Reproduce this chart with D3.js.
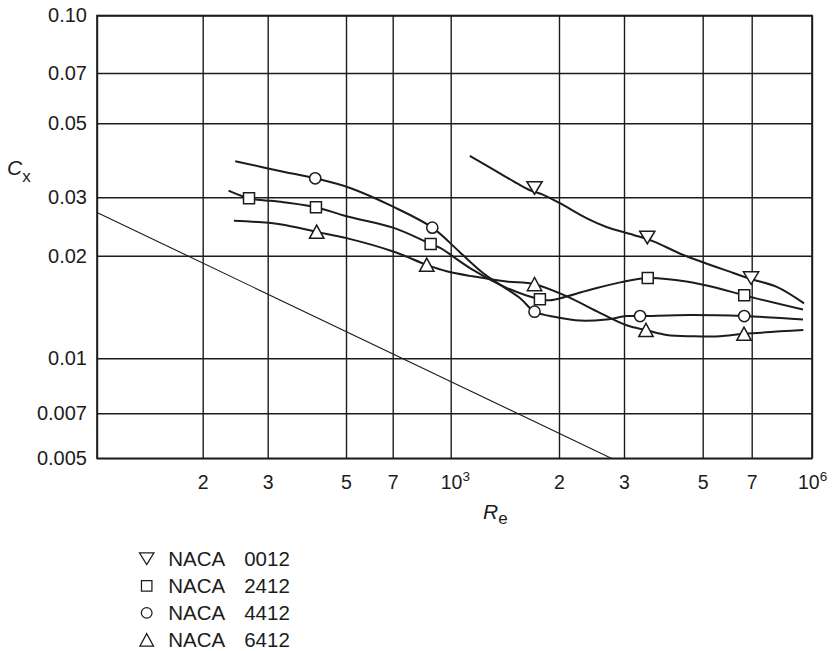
<!DOCTYPE html>
<html>
<head>
<meta charset="utf-8">
<script src="https://cdn.jsdelivr.net/npm/d3@7"></script>
<style>
  body { margin: 0; background: #fff; }
  text { font-family: "Liberation Sans", Arial, Helvetica, sans-serif; fill: #1c1c1c; }
</style>
</head>
<body>
<div id="vis"></div>
<script>
// tick values and labels (as printed on the figure)
var xTicks = [1e4, 2e4, 3e4, 5e4, 7e4, 1e5, 2e5, 3e5, 5e5, 7e5, 1e6];
var xTickLabels = ["", "2", "3", "5", "7", "10^3", "2", "3", "5", "7", "10^6"];
var yTicks = [0.005, 0.007, 0.01, 0.02, 0.03, 0.05, 0.07, 0.1];
var yTickLabels = ["0.005", "0.007", "0.01", "0.02", "0.03", "0.05", "0.07", "0.10"];

var seriesNames = ["NACA 0012", "NACA 2412", "NACA 4412", "NACA 6412"];
var seriesShapes = ["triDown", "square", "circle", "triUp"];

// faired curves [Re, Cx]
var curve0012 = [[1.13e5,0.0399],[1.37e5,0.0354],[1.53e5,0.033],[1.66e5,0.0315],[1.81e5,0.0305],[2.01e5,0.0288],
  [2.38e5,0.0259],[2.69e5,0.0244],[3.19e5,0.0231],[3.63e5,0.0221],[4.41e5,0.0201],[6.17e5,0.0178],
  [7.07e5,0.017],[8.12e5,0.0162],[9.54e5,0.0145]];
var curve2412 = [[2.35e4,0.0314],[2.67e4,0.0298],[3.32e4,0.029],[4.11e4,0.028],[5.02e4,0.0263],[7.02e4,0.0243],
  [8.84e4,0.0217],[9.37e4,0.0211],[1.15e5,0.0182],[1.43e5,0.0161],[1.77e5,0.0149],[1.89e5,0.0148],
  [2.43e5,0.0159],[2.93e5,0.0167],[3.5e5,0.0172],[4.5e5,0.0168],[5.63e5,0.016],[6.65e5,0.0153],[9.48e5,0.0139]];
var curve4412 = [[2.45e4,0.0385],[3.32e4,0.0358],[4.09e4,0.0342],[5.15e4,0.032],[7.02e4,0.0281],[8.93e4,0.0243],
  [1.06e5,0.0205],[1.23e5,0.0178],[1.56e5,0.015],[1.71e5,0.0137],[1.97e5,0.0132],[2.28e5,0.0129],
  [2.69e5,0.013],[3.05e5,0.0133],[3.33e5,0.0133],[4.6e5,0.0134],[6.65e5,0.0133],[9.48e5,0.013]];
var curve6412 = [[2.43e4,0.0255],[3.25e4,0.0249],[4.13e4,0.0236],[5.02e4,0.0226],[7.02e4,0.0206],[8.63e4,0.0188],
  [9.76e4,0.018],[1.15e5,0.0174],[1.43e5,0.0168],[1.71e5,0.0165],[2.1e5,0.0152],[2.58e5,0.0136],
  [3.05e5,0.0125],[3.46e5,0.0121],[3.96e5,0.0117],[4.7e5,0.0116],[5.63e5,0.0116],[6.64e5,0.0118],[9.5e5,0.0121]];

// measured points [Re, Cx]
var marks0012 = [[1.71e5,0.032],[3.49e5,0.0227],[6.97e5,0.0172]];
var marks2412 = [[2.67e4,0.0298],[4.11e4,0.028],[8.84e4,0.0217],[1.77e5,0.0149],[3.5e5,0.0172],[6.65e5,0.0153]];
var marks4412 = [[4.09e4,0.0342],[8.93e4,0.0243],[1.71e5,0.0137],[3.33e5,0.0133],[6.65e5,0.0133]];
var marks6412 = [[4.13e4,0.0236],[8.63e4,0.0188],[1.71e5,0.0165],[3.46e5,0.0121],[6.64e5,0.0118]];

// laminar flat plate line
var laminarLine = [[1e4,0.027],[2.77e5,0.005]];

var curves = [curve0012, curve2412, curve4412, curve6412];
var marks = [marks0012, marks2412, marks4412, marks6412];

var w = 832, h = 651;
var plotLeft = 97, plotRight = 812, plotTop = 15.5, plotBottom = 458.3;

var svg = d3.select("#vis").append("svg")
  .attr("width", w)
  .attr("height", h);

// printed grid is slightly uneven, so log scales are pinned at every grid line
var x = d3.scaleLog()
  .domain(xTicks)
  .range([plotLeft, 202.7, 267.7, 346, 392.7, 450.7, 559, 624, 702.7, 751.7, plotRight]);
var y = d3.scaleLog()
  .domain(yTicks)
  .range([plotBottom, 413.3, 358.3, 255.7, 197.3, 123.3, 73, plotTop]);

var ink = "#1c1c1c";

// x grid + labels
var xAxis = svg.append("g")
  .attr("transform", `translate(0,${plotBottom})`)
  .call(d3.axisBottom(x)
    .tickValues(xTicks)
    .tickSize(-(plotBottom - plotTop))
    .tickPadding(16.5)
    .tickFormat((d, i) => xTickLabels[i]));
xAxis.select(".domain").remove();
xAxis.selectAll("line").attr("stroke", ink).attr("stroke-width", 1.4);
xAxis.selectAll("text")
  .attr("font-size", 19.5)
  .attr("font-family", null)
  .attr("fill", ink)
  .each(function(d, i) {
    var lab = xTickLabels[i];
    if (lab.indexOf("^") < 0) return;
    var parts = lab.split("^");
    var t = d3.select(this).text(null).attr("text-anchor", "start").attr("x", i == xTicks.length - 1 ? -14.5 : -10.5);
    t.append("tspan").text(parts[0]);
    t.append("tspan").attr("font-size", 13.5).attr("dy", "-0.6em").text(parts[1]);
  });

// y grid + labels
var yAxis = svg.append("g")
  .attr("transform", `translate(${plotLeft},0)`)
  .call(d3.axisLeft(y)
    .tickValues(yTicks)
    .tickSize(-(plotRight - plotLeft))
    .tickPadding(10)
    .tickFormat((d, i) => yTickLabels[i]));
yAxis.select(".domain").remove();
yAxis.selectAll("line").attr("stroke", ink).attr("stroke-width", 1.4);
yAxis.selectAll("text")
  .attr("font-size", 20)
  .attr("font-family", null)
  .attr("fill", ink);

// frame
svg.append("rect")
  .attr("x", plotLeft).attr("y", plotTop)
  .attr("width", plotRight - plotLeft).attr("height", plotBottom - plotTop)
  .attr("fill", "none").attr("stroke", ink).attr("stroke-width", 1.6);

// laminar reference line
svg.append("path")
  .attr("d", d3.line().x(d => x(d[0])).y(d => y(d[1]))(laminarLine))
  .attr("fill", "none").attr("stroke", ink).attr("stroke-width", 1.1);

// curves
var line = d3.line()
  .x(d => x(d[0]))
  .y(d => y(d[1]))
  .curve(d3.curveCatmullRom.alpha(0.5));

svg.append("g").selectAll("path")
  .data(curves)
  .enter()
  .append("path")
  .attr("d", line)
  .attr("fill", "none")
  .attr("stroke", ink)
  .attr("stroke-width", 2);

// marker shapes
var shapePath = {
  triDown: "M0,6.3L7.6,-6.2L-7.6,-6.2Z",
  triUp: "M0,-6.7L7.2,6.5L-7.2,6.5Z",
  square: "M-5.5,-5.5H5.5V5.5H-5.5Z",
  circle: "M5.6,0A5.6,5.6 0 1,1 -5.6,0A5.6,5.6 0 1,1 5.6,0Z"
};

marks.forEach(function(pts, i) {
  svg.append("g").selectAll("path")
    .data(pts)
    .enter()
    .append("path")
    .attr("transform", d => `translate(${x(d[0])},${y(d[1])})`)
    .attr("d", shapePath[seriesShapes[i]])
    .attr("fill", "#fff")
    .attr("stroke", ink)
    .attr("stroke-width", 1.5);
});

// axis titles
var cx = svg.append("text").attr("x", 7).attr("y", 175).attr("font-size", 21);
cx.append("tspan").attr("font-style", "italic").text("C");
cx.append("tspan").attr("font-size", 17).attr("dy", 7).text("x");

var re = svg.append("text").attr("x", 483).attr("y", 519).attr("font-size", 21);
re.append("tspan").attr("font-style", "italic").text("R");
re.append("tspan").attr("font-size", 17).attr("dy", 5).text("e");

// legend
var legend = svg.append("g").selectAll("g")
  .data(seriesNames)
  .enter()
  .append("g")
  .attr("transform", (d, i) => `translate(146.7,${558.7 + i * 27.1})`);

legend.append("path")
  .attr("d", (d, i) => shapePath[seriesShapes[i]])
  .attr("transform", "scale(0.95)")
  .attr("fill", "none")
  .attr("stroke", ink)
  .attr("stroke-width", 1.3);

legend.append("text")
  .attr("x", 21.5).attr("y", 6.8)
  .attr("font-size", 20.5)
  .text(d => d.split(" ")[0]);

legend.append("text")
  .attr("x", 97.5).attr("y", 6.8)
  .attr("font-size", 20.5)
  .text(d => d.split(" ")[1]);
</script>
</body>
</html>
